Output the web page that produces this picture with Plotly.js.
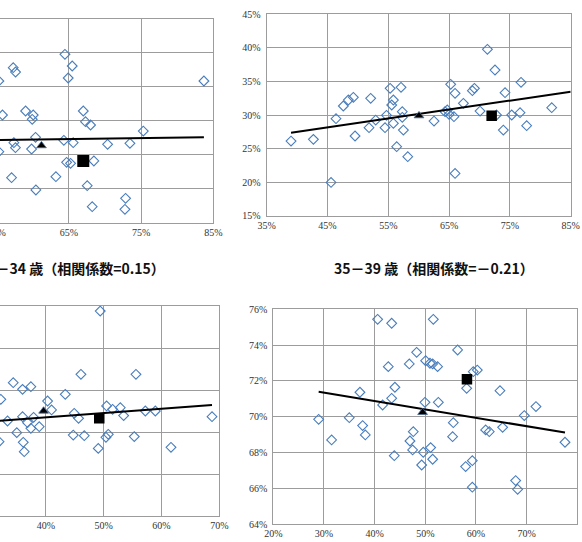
<!DOCTYPE html>
<html>
<head>
<meta charset="utf-8">
<script src="https://cdn.plot.ly/plotly-3.0.1.min.js"></script>
<style>
  html, body { margin: 0; padding: 0; background: #fff; overflow: hidden; width: 582px; height: 542px; }
  #chart { position: absolute; left: -150px; top: 0; width: 732px; height: 542px; }
</style>
</head>
<body>
<div id="chart"></div>
<script>
// ---- data (percent values) ----
// upper-left panel
const topLeftX = [64.45, 65.46, 64.9, 57.29, 57.61, 55.3, 83.7, 55.8, 59.0, 60.06, 59.92, 66.99, 67.3, 68.0, 75.3, 60.38, 64.3, 65.6, 57.38, 57.6, 55.3, 59.83, 70.36, 73.45, 64.68, 65.23, 68.46, 57.06, 63.2, 67.54, 60.43, 68.23, 72.85, 72.76];
const topLeftY = [39.8, 38.08, 36.31, 37.83, 37.19, 35.87, 35.87, 30.86, 31.45, 30.86, 30.22, 31.45, 29.88, 29.39, 28.5, 27.57, 27.13, 26.79, 26.79, 26.05, 25.46, 25.85, 26.54, 26.69, 23.89, 23.74, 24.09, 21.63, 21.78, 20.45, 19.82, 17.36, 18.59, 16.97];
const topLeftAvg = [61.2, 26.35];
const topLeftJapan = [66.99, 24.09];
const topLeftTrendX = [50, 83.7];
const topLeftTrendY = [27.11, 27.57];

// upper-right panel
const topRightX = [39.0, 42.68, 45.58, 46.4, 47.6, 48.43, 49.25, 49.53, 52.1, 51.83, 52.93, 54.46, 54.7, 55.3, 55.56, 55.83, 55.83, 56.38, 57.09, 57.3, 57.3, 57.48, 58.2, 62.52, 64.33, 64.7, 64.99, 65.26, 65.98, 65.8, 65.98, 67.35, 68.83, 69.16, 70.09, 71.3, 72.55, 72.8, 74.2, 73.92, 75.3, 76.83, 76.67, 77.76, 81.88];
const topRightY = [26.12, 26.37, 19.96, 29.45, 31.34, 32.23, 32.63, 26.87, 32.48, 28.11, 29.25, 28.11, 29.95, 33.97, 31.49, 32.23, 28.76, 25.28, 34.12, 30.49, 29.65, 27.76, 23.79, 29.1, 30.49, 30.74, 30.1, 34.57, 33.23, 29.75, 21.3, 31.74, 33.62, 33.97, 30.59, 39.78, 36.7, 30.0, 33.33, 27.76, 30.0, 34.87, 30.35, 28.41, 31.09];
const topRightAvg = [60.05, 29.9];
const topRightJapan = [72.0, 29.9];
const topRightTrendX = [39.0, 85];
const topRightTrendY = [27.36, 33.47];

// 30-34
const age30X = [49.4, 46.06, 55.58, 34.35, 35.96, 37.4, 43.35, 32.2, 40.29, 40.98, 44.9, 45.65, 35.96, 37.87, 33.36, 36.83, 37.4, 38.85, 34.96, 50.5, 51.54, 52.87, 53.45, 57.2, 58.93, 68.74, 44.73, 46.64, 50.39, 50.79, 55.29, 36.08, 36.25, 49.06, 61.64, 31.9];
const age30Y = [79.52, 73.49, 73.49, 72.7, 72.06, 72.32, 71.59, 71.11, 70.95, 70.1, 69.78, 69.3, 69.46, 69.4, 69.05, 68.89, 68.35, 68.51, 67.94, 70.48, 70.16, 70.32, 69.56, 70.0, 70.0, 69.46, 67.71, 67.65, 67.49, 67.78, 67.56, 67.02, 66.13, 66.44, 66.54, 67.08];
const age30Avg = [39.6, 70.0];
const age30Japan = [49.23, 69.3];
const age30TrendX = [25, 68.74];
const age30TrendY = [68.77, 70.57];

// 35-39
const age35X = [28.95, 31.51, 35.0, 37.1, 37.63, 38.16, 40.59, 43.36, 42.7, 44.0, 43.36, 41.58, 43.88, 48.29, 46.84, 46.97, 47.63, 47.5, 50.07, 50.92, 51.45, 52.43, 51.58, 49.93, 52.57, 49.6, 49.28, 51.05, 51.45, 55.53, 55.39, 56.38, 58.16, 59.47, 60.26, 57.96, 59.28, 59.28, 61.91, 62.63, 65.26, 64.74, 69.54, 71.84, 67.83, 68.22, 77.57];
const age35Y = [69.86, 68.71, 69.95, 71.37, 69.51, 68.99, 75.44, 75.22, 72.8, 71.65, 71.03, 70.66, 67.83, 73.6, 72.95, 68.65, 69.17, 68.15, 73.13, 72.99, 72.95, 72.8, 75.44, 70.81, 70.81, 68.02, 67.31, 68.28, 67.63, 69.67, 68.89, 73.73, 71.59, 72.52, 72.61, 67.22, 67.55, 66.07, 69.27, 69.17, 69.41, 71.46, 70.07, 70.57, 66.44, 65.95, 68.58];
const age35Avg = [49.47, 70.25];
const age35Japan = [58.22, 72.09];
const age35TrendX = [28.95, 77.57];
const age35TrendY = [71.4, 69.12];

const titles = ['30－34 歳（相関係数=0.15）', '35－39 歳（相関係数=－0.21）'];

// ---- layout geometry (page pixels) ----
const W = 732, H = 542, OFF = 150;
const dx = (a, b) => [(a + OFF) / W, (b + OFF) / W];
const dy = (top, bottom) => [(H - bottom) / H, (H - top) / H];

const BLUE = '#4a7ebb';
const GRID = '#9c9c9c';
const TICKFONT = { family: '"Liberation Serif", "DejaVu Serif", serif', size: 10, color: '#333' };

const panels = [
  { x: topLeftX, y: topLeftY, avg: topLeftAvg, jp: topLeftJapan, tx: topLeftTrendX, ty: topLeftTrendY,
    xr: [45, 85], yr: [15, 45], xd: 10, yd: 5, sq: 12, dom: [dx(-75.5, 213.3), dy(19, 222.7)] },
  { x: topRightX, y: topRightY, avg: topRightAvg, jp: topRightJapan, tx: topRightTrendX, ty: topRightTrendY,
    xr: [35, 85], yr: [15, 45], xd: 10, yd: 5, sq: 10.5, dom: [dx(266.7, 570.7), dy(14.3, 215.7)] },
  { x: age30X, y: age30Y, avg: age30Avg, jp: age30Japan, tx: age30TrendX, ty: age30TrendY,
    xr: [20, 70], yr: [60, 80], xd: 10, yd: 4, sq: 10.5, dom: [dx(-69.7, 219.3), dy(306, 516)] },
  { x: age35X, y: age35Y, avg: age35Avg, jp: age35Japan, tx: age35TrendX, ty: age35TrendY,
    xr: [20, 80], yr: [64, 76], xd: 10, yd: 2, sq: 10.5, dom: [dx(273.3, 577.3), dy(309.3, 524.3)] }
];

const traces = [];
const layout = {
  width: W, height: H,
  margin: { l: 0, r: 0, t: 0, b: 0 },
  paper_bgcolor: '#fff', plot_bgcolor: '#fff',
  showlegend: false,
  font: TICKFONT,
  annotations: []
};

panels.forEach((p, i) => {
  const n = i === 0 ? '' : String(i + 1);
  const xa = 'x' + n, ya = 'y' + n;
  traces.push({
    x: p.x, y: p.y, xaxis: xa, yaxis: ya, type: 'scatter', mode: 'markers',
    marker: { symbol: 'diamond-open', size: 7.5, color: BLUE, line: { width: 1.1, color: BLUE } },
    hoverinfo: 'skip'
  });
  traces.push({
    x: p.tx, y: p.ty, xaxis: xa, yaxis: ya, type: 'scatter', mode: 'lines',
    line: { color: '#000', width: 2 }, hoverinfo: 'skip'
  });
  traces.push({
    x: [p.avg[0]], y: [p.avg[1]], xaxis: xa, yaxis: ya, type: 'scatter', mode: 'markers',
    marker: { symbol: 'triangle-up', size: 8.5, color: '#000', line: { width: 0.8, color: '#4a6a90' } },
    hoverinfo: 'skip'
  });
  traces.push({
    x: [p.jp[0]], y: [p.jp[1]], xaxis: xa, yaxis: ya, type: 'scatter', mode: 'markers',
    marker: { symbol: 'square', size: p.sq, color: '#000', line: { width: 0 } },
    hoverinfo: 'skip'
  });
  const common = {
    showgrid: true, gridcolor: GRID, gridwidth: 1,
    showline: true, linecolor: GRID, linewidth: 1, mirror: true,
    zeroline: false, ticks: '', ticksuffix: '%', fixedrange: true,
    tickfont: TICKFONT
  };
  layout['xaxis' + n] = Object.assign({}, common, {
    domain: p.dom[0], range: p.xr, dtick: p.xd, tick0: p.xr[0], anchor: ya
  });
  layout['yaxis' + n] = Object.assign({}, common, {
    domain: p.dom[1], range: p.yr, dtick: p.yd, tick0: p.yr[0], anchor: xa, ticklabelstandoff: 3
  });
});

// panel headings for the lower row
const titleFont = { family: '"Noto Sans CJK JP", sans-serif', size: 14, color: '#111', weight: 'bold' };
layout.annotations.push({
  text: titles[0], xref: 'paper', yref: 'paper',
  x: (167 + OFF) / W, y: (H - 268) / H, xanchor: 'right', yanchor: 'middle',
  showarrow: false, font: titleFont
});
layout.annotations.push({
  text: titles[1], xref: 'paper', yref: 'paper',
  x: (434 + OFF) / W, y: (H - 268) / H, xanchor: 'center', yanchor: 'middle',
  showarrow: false, font: titleFont
});

Plotly.newPlot('chart', traces, layout, { displayModeBar: false, staticPlot: true });
</script>
</body>
</html>
